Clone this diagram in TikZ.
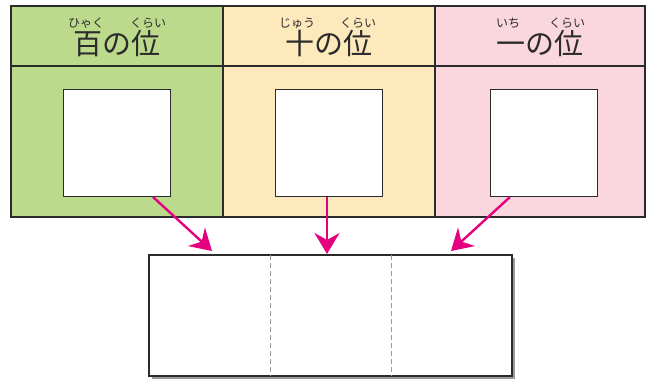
\documentclass[tikz,border=0pt]{standalone}
\usepackage{fontspec}
\newfontfamily\jp{Noto Sans CJK JP}
\usetikzlibrary{arrows.meta}
\definecolor{frame}{HTML}{2B2B2B}
\definecolor{cgreen}{HTML}{BCDA8C}
\definecolor{cyellow}{HTML}{FEE9BD}
\definecolor{cpink}{HTML}{FAD7DF}
\definecolor{mag}{HTML}{E5007F}
\definecolor{shadow}{HTML}{9A9A9A}
\tikzset{
  cell/.style={draw=frame, line width=1.6pt},
  slot/.style={draw=frame, line width=0.9pt, fill=white},
  title/.style={inner sep=0pt, anchor=base, font=\jp\fontsize{29}{29}\selectfont, text=frame},
  ruby/.style={inner sep=0pt, anchor=base, font=\jp\fontsize{12}{12}\selectfont, text=frame},
  link/.style={draw=mag, line width=2.4pt, -{Stealth[length=21pt,width=25pt,inset=7pt]}},
  divider/.style={draw=shadow, line width=0.9pt, dash pattern=on 5pt off 3pt}
}
\begin{document}
\begin{tikzpicture}[x=1pt,y=1pt]
\useasboundingbox (0,0) rectangle (652,378);
% columns
\fill[cgreen] (11,161) rectangle (223,372);
\fill[cyellow] (223,161) rectangle (435,372);
\fill[cpink] (435,161) rectangle (645,372);
\draw[cell] (11,161) rectangle (645,372);
\draw[cell] (11,312) -- (645,312);
\draw[cell] (223,161) -- (223,372);
\draw[cell] (435,161) -- (435,372);
% headings
\node[title] (h1) at (117,323) {百の位};
\node[title] (h2) at (329,323) {十の位};
\node[title] (h3) at (540,323) {一の位};
\node[ruby] (r1a) at ([xshift=-31pt,yshift=27pt]h1.base) {ひゃく};
\node[ruby] (r1b) at ([xshift=31pt,yshift=27pt]h1.base) {くらい};
\node[ruby] (r2a) at ([xshift=-32pt,yshift=27pt]h2.base) {じゅう};
\node[ruby] (r2b) at ([xshift=29pt,yshift=27pt]h2.base) {くらい};
\node[ruby] (r3a) at ([xshift=-32pt,yshift=27pt]h3.base) {いち};
\node[ruby] (r3b) at ([xshift=27pt,yshift=27pt]h3.base) {くらい};
% slots
\node[slot, minimum width=107pt, minimum height=107pt, inner sep=0pt] (s1) at (117,235.5) {};
\node[slot, minimum width=107pt, minimum height=107pt, inner sep=0pt] (s2) at (329,235.5) {};
\node[slot, minimum width=107pt, minimum height=107pt, inner sep=0pt] (s3) at (543.5,235.5) {};
% bottom box
\fill[shadow] (152,-1) rectangle (515,120);
\node[draw=frame, line width=1.2pt, fill=white, minimum width=363pt, minimum height=121pt, inner sep=0pt] (box) at (330.5,62.5) {};
\draw[divider] (270,123) -- (270,2);
\draw[divider] (391,123) -- (391,2);
% arrow ends
\coordinate (a1s) at (153,181);
\coordinate (a1e) at (212,127);
\coordinate (a2s) at (327,181);
\coordinate (a2e) at (327,124);
\coordinate (a3s) at (510,181);
\coordinate (a3e) at (451,127);
\draw[link] (a1s) -- (a1e);
\draw[link] (a2s) -- (a2e);
\draw[link] (a3s) -- (a3e);
\end{tikzpicture}
\end{document}
